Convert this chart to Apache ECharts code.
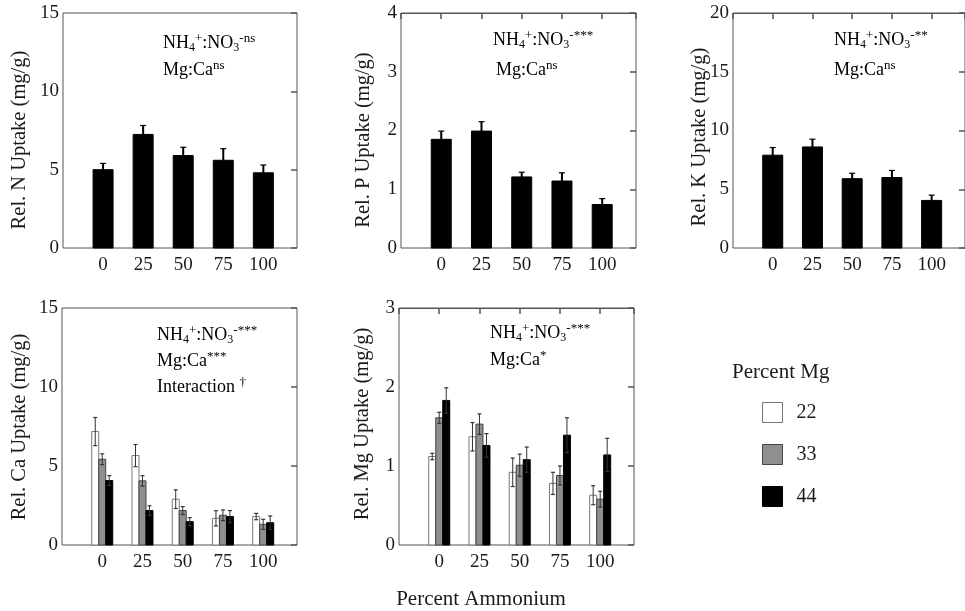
<!DOCTYPE html>
<html>
<head>
<meta charset="utf-8">
<script src="https://cdn.jsdelivr.net/npm/echarts@6/dist/echarts.min.js"></script>
<style>
  html, body { margin: 0; padding: 0; background: #fff; }
  #chart { width: 965px; height: 611px; }
</style>
</head>
<body>
<div id="chart"></div>
<script>
// percent ammonium in the nutrient solution
const cats = [0, 25, 50, 75, 100];

// top row, one bar per level (mg/g)
const nVal = [5.0, 7.25, 5.9, 5.6, 4.8];
const nErr = [0.4, 0.57, 0.53, 0.74, 0.5];
const pVal = [1.85, 1.99, 1.21, 1.14, 0.74];
const pErr = [0.14, 0.16, 0.08, 0.14, 0.10];
const kVal = [7.9, 8.6, 5.9, 6.0, 4.05];
const kErr = [0.65, 0.66, 0.46, 0.6, 0.45];

// bottom row, by percent Mg (22 / 33 / 44)
const ca22 = [7.18, 5.66, 2.9, 1.69, 1.8];
const ca22Err = [0.89, 0.7, 0.59, 0.48, 0.2];
const ca33 = [5.43, 4.06, 2.18, 1.88, 1.31];
const ca33Err = [0.34, 0.33, 0.25, 0.34, 0.32];
const ca44 = [4.08, 2.18, 1.48, 1.8, 1.41];
const ca44Err = [0.31, 0.3, 0.25, 0.38, 0.43];

const mg22 = [1.12, 1.37, 0.92, 0.78, 0.63];
const mg22Err = [0.04, 0.18, 0.18, 0.14, 0.12];
const mg33 = [1.61, 1.53, 1.01, 0.88, 0.58];
const mg33Err = [0.07, 0.13, 0.14, 0.12, 0.1];
const mg44 = [1.83, 1.26, 1.08, 1.39, 1.14];
const mg44Err = [0.16, 0.15, 0.16, 0.22, 0.21];

const mgLevels = ['22', '33', '44'];

const FONT = '"Liberation Serif", "DejaVu Serif", serif';
const FRAME = '#555';
const TXT = '#1a1a1a';

const levelStyle = {
  '22': { fill: '#fff', stroke: '#777' },
  '33': { fill: '#8f8f8f', stroke: '#444' },
  '44': { fill: '#000', stroke: '#000' }
};

// panel layout
const panels = [
  { left: 63, top: 13, width: 234, height: 235, max: 15, interval: 5, topTicks: false },
  { left: 401, top: 13, width: 235, height: 235, max: 4, interval: 1, topTicks: true },
  { left: 733, top: 13, width: 235, height: 235, max: 20, interval: 5, topTicks: true },
  { left: 62, top: 308, width: 235, height: 237, max: 15, interval: 5, topTicks: false },
  { left: 399, top: 308, width: 235, height: 237, max: 3, interval: 1, topTicks: true }
];

let grid = [], xAxis = [], yAxis = [], series = [];

panels.forEach((p, i) => {
  grid.push({ left: p.left, top: p.top, width: p.width, height: p.height,
    show: true, borderColor: FRAME, borderWidth: 1, backgroundColor: 'transparent' });
  xAxis.push({
    type: 'value', gridIndex: i, min: -25, max: 121, position: 'bottom',
    splitLine: { show: false }, axisLine: { show: false, onZero: false }, axisTick: { show: false },
    axisLabel: { customValues: cats, margin: 8, color: TXT, fontSize: 19, fontFamily: FONT }
  });
  xAxis.push({
    type: 'value', gridIndex: i, min: -25, max: 121, interval: 25, position: 'top',
    show: p.topTicks,
    splitLine: { show: false },
    axisLine: { show: true, onZero: false, lineStyle: { color: FRAME, width: 1 } },
    axisTick: { show: true, inside: true, length: 6,
      lineStyle: { color: FRAME, width: 1.5 } },
    axisLabel: { show: false }
  });
  yAxis.push({
    type: 'value', gridIndex: i, min: 0, max: p.max, interval: p.interval, position: 'left',
    splitLine: { show: false }, axisLine: { show: false, onZero: false }, axisTick: { show: false },
    axisLabel: { margin: 4, color: TXT, fontSize: 19, fontFamily: FONT }
  });
  yAxis.push({
    type: 'value', gridIndex: i, min: 0, max: p.max, interval: p.interval, position: 'right',
    splitLine: { show: false }, axisLine: { show: false, onZero: false },
    axisTick: { show: true, inside: true, length: 6, lineStyle: { color: FRAME, width: 1.5 } },
    axisLabel: { show: false }
  });
});

function barSeries(name, panel, vals, errs, look, offset, w, thin) {
  return {
    type: 'custom', name: name,
    xAxisIndex: panel * 2, yAxisIndex: panel * 2,
    data: cats.map((c, k) => [c, vals[k], errs[k]]),
    encode: { x: 0, y: 1 },
    itemStyle: { color: look.fill, borderColor: look.stroke },
    renderItem: function (params, api) {
      const x = api.value(0), v = api.value(1), e = api.value(2);
      const base = api.coord([x, 0]);
      const top = api.coord([x, v]);
      const hi = api.coord([x, v + e]);
      const lo = api.coord([x, v - e]);
      const cx = base[0] + offset;
      const cap = thin ? 2 : 3;
      const lw = thin ? 1 : 2;
      const ec = thin ? '#333' : '#000';
      return {
        type: 'group',
        children: [
          { type: 'rect', shape: { x: cx - w / 2, y: top[1], width: w, height: base[1] - top[1] },
            style: { fill: look.fill, stroke: look.stroke, lineWidth: 1 } },
          { type: 'line', shape: { x1: cx, y1: lo[1], x2: cx, y2: hi[1] },
            style: { stroke: ec, lineWidth: lw } },
          { type: 'line', shape: { x1: cx - cap, y1: hi[1], x2: cx + cap, y2: hi[1] },
            style: { stroke: ec, lineWidth: 1.2 } },
          { type: 'line', shape: { x1: cx - cap, y1: lo[1], x2: cx + cap, y2: lo[1] },
            style: { stroke: ec, lineWidth: 1.2, opacity: thin ? 1 : 0 } }
        ]
      };
    }
  };
}

series.push(barSeries('N', 0, nVal, nErr, levelStyle['44'], 0, 20, false));
series.push(barSeries('P', 1, pVal, pErr, levelStyle['44'], 0, 20, false));
series.push(barSeries('K', 2, kVal, kErr, levelStyle['44'], 0, 20, false));

const caSets = [[ca22, ca22Err], [ca33, ca33Err], [ca44, ca44Err]];
const mgSets = [[mg22, mg22Err], [mg33, mg33Err], [mg44, mg44Err]];
mgLevels.forEach((lv, j) => {
  series.push(barSeries(lv, 3, caSets[j][0], caSets[j][1], levelStyle[lv], (j - 1) * 7, 7, true));
  series.push(barSeries(lv, 4, mgSets[j][0], mgSets[j][1], levelStyle[lv], (j - 1) * 7, 7, true));
});

// rich text styles for the statistics notes
const rich = {
  b: { fontSize: 18, fontFamily: FONT, color: TXT, lineHeight: 22, verticalAlign: 'middle' },
  sub: { fontSize: 12, fontFamily: FONT, color: TXT, lineHeight: 12, verticalAlign: 'bottom' },
  sup: { fontSize: 13, fontFamily: FONT, color: TXT, lineHeight: 14, verticalAlign: 'top' }
};
function note(x, y, text) {
  return { type: 'text', x: x, y: y, z: 10,
    style: { text: text, rich: rich, textAlign: 'left', textVerticalAlign: 'middle' } };
}
function ammonia(sig) {
  return '{b|NH}{sub|4}{sup|+}{b|:NO}{sub|3}{sup|-' + sig + '}';
}
function yName(x, y, text) {
  return { type: 'text', x: x, y: y, rotation: Math.PI / 2, z: 10,
    style: { text: text, fill: TXT, fontSize: 20.5, fontFamily: FONT,
      textAlign: 'center', textVerticalAlign: 'middle' } };
}

const graphic = [
  yName(20, 140, 'Rel. N Uptake (mg/g)'),
  yName(364, 140, 'Rel. P Uptake (mg/g)'),
  yName(700, 137, 'Rel. K Uptake (mg/g)'),
  yName(20, 427, 'Rel. Ca Uptake (mg/g)'),
  yName(363, 424, 'Rel. Mg Uptake (mg/g)'),
  note(163, 43, ammonia('ns')),
  note(163, 70, '{b|Mg:Ca}{sup|ns}'),
  note(493, 40, ammonia('***')),
  note(496, 70, '{b|Mg:Ca}{sup|ns}'),
  note(834, 40, ammonia('**')),
  note(834, 70, '{b|Mg:Ca}{sup|ns}'),
  note(157, 335, ammonia('***')),
  note(157, 361, '{b|Mg:Ca}{sup|***}'),
  note(157, 387, '{b|Interaction }{sup|†}'),
  note(490, 333, ammonia('***')),
  note(490, 360, '{b|Mg:Ca}{sup|*}'),
  { type: 'text', x: 481, y: 599, z: 10,
    style: { text: 'Percent Ammonium', fill: TXT, fontSize: 21, fontFamily: FONT,
      textAlign: 'center', textVerticalAlign: 'middle' } },
  { type: 'text', x: 732, y: 372, z: 10,
    style: { text: 'Percent Mg', fill: TXT, fontSize: 21, fontFamily: FONT,
      textAlign: 'left', textVerticalAlign: 'middle' } }
];

const chart = echarts.init(document.getElementById('chart'), null, { renderer: 'canvas' });
chart.setOption({
  animation: false,
  backgroundColor: '#fff',
  grid: grid,
  xAxis: xAxis,
  yAxis: yAxis,
  legend: {
    orient: 'vertical', left: 757, top: 397,
    itemWidth: 20, itemHeight: 20, itemGap: 21, selectedMode: false,
    icon: 'rect',
    textStyle: { fontSize: 20, fontFamily: FONT, color: TXT, padding: [0, 0, 0, 9] },
    data: mgLevels.map(lv => ({ name: lv,
      itemStyle: { color: levelStyle[lv].fill, borderColor: levelStyle[lv].stroke, borderWidth: 1 } }))
  },
  graphic: graphic,
  series: series
});
</script>
</body>
</html>
